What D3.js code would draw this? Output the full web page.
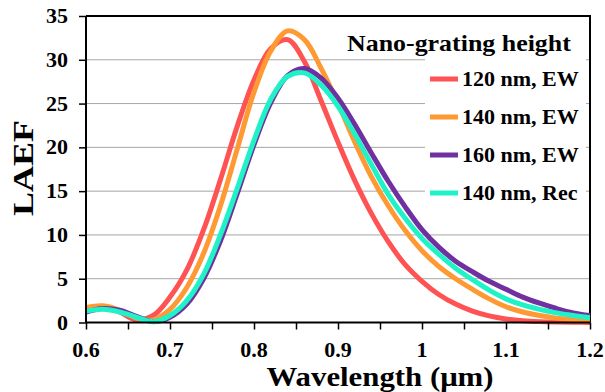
<!DOCTYPE html>
<html>
<head>
<meta charset="utf-8">
<script src="https://cdn.jsdelivr.net/npm/d3@7"></script>
<style>
  body { margin: 0; background: #fff; }
  text { font-family: "Liberation Serif", "Times New Roman", serif; font-weight: bold; fill: #000; }
</style>
</head>
<body>
<svg id="chart" width="605" height="392"></svg>
<script>
// wavelength samples (um)
var wavelength = [0.60, 0.62, 0.64, 0.66, 0.68, 0.70, 0.72, 0.74, 0.76, 0.78, 0.80,
                  0.82, 0.84, 0.86, 0.88, 0.90, 0.92, 0.94, 0.96, 0.98, 1.00,
                  1.02, 1.04, 1.06, 1.08, 1.10, 1.12, 1.14, 1.16, 1.18, 1.20];

var laef120EW  = [1.6, 1.8, 1.2, 0.3, 0.8, 2.9, 6.0, 10.6, 16.3, 22.4, 27.7,
                  31.3, 32.3, 29.8, 25.3, 20.6, 16.2, 12.4, 9.2, 6.6, 4.7,
                  3.2, 2.1, 1.3, 0.75, 0.4, 0.2, 0.1, 0.05, 0.02, 0.01];
var laef140EW  = [1.7, 1.9, 1.4, 0.5, 0.3, 1.5, 4.0, 7.9, 13.3, 19.8, 26.3,
                  31.0, 33.3, 32.3, 29.0, 25.0, 20.6, 16.6, 13.3, 10.5, 8.2,
                  6.4, 5.0, 3.8, 2.7, 1.8, 1.2, 0.8, 0.5, 0.35, 0.25];
var laef160EW  = [1.2, 1.6, 1.4, 0.7, 0.1, 0.6, 2.1, 5.0, 9.3, 14.7, 20.3,
                  25.1, 28.2, 29.0, 27.9, 25.6, 22.6, 19.3, 16.1, 13.2, 10.6,
                  8.6, 7.0, 5.8, 4.7, 3.8, 2.9, 2.2, 1.6, 1.1, 0.8];
var laef140Rec = [1.3, 1.5, 1.2, 0.6, 0.1, 0.8, 2.5, 5.5, 10.0, 15.3, 20.8,
                  25.5, 28.1, 28.5, 27.1, 24.7, 21.5, 18.0, 14.6, 11.9, 9.6,
                  7.8, 6.2, 4.9, 3.7, 2.7, 2.0, 1.5, 1.1, 0.8, 0.55];

var seriesNames = ["120 nm, EW", "140 nm, EW", "160 nm, EW", "140 nm, Rec"];
var seriesValues = [laef120EW, laef140EW, laef160EW, laef140Rec];
var seriesColors = ["#ff5252", "#ff9933", "#7030a0", "#1ff2c6"];

var xTicks = [0.6, 0.7, 0.8, 0.9, 1.0, 1.1, 1.2];
var xMinorTicks = [0.6, 0.65, 0.7, 0.75, 0.8, 0.85, 0.9, 0.95, 1.0, 1.05, 1.1, 1.15, 1.2];
var yTicks = [0, 5, 10, 15, 20, 25, 30, 35];

(function () {
var svg = d3.select("#chart");

var pLeft = 86, pRight = 590, pTop = 16, pBottom = 322.5;

var x = d3.scaleLinear().domain([0.6, 1.2]).range([pLeft, pRight]);
var y = d3.scaleLinear().domain([0, 35]).range([pBottom, pTop]);

// gridlines
svg.append("g")
    .selectAll("line")
    .data(yTicks.filter(function (d) { return d > 0 && d < 35; }))
    .enter().append("line")
    .attr("x1", pLeft).attr("x2", pRight)
    .attr("y1", function (d) { return y(d); })
    .attr("y2", function (d) { return y(d); })
    .attr("stroke", "#a6a6a6")
    .attr("stroke-width", 1);

// legend background hides the gridlines behind it
svg.append("rect")
    .attr("x", 425).attr("y", 58)
    .attr("width", 161).attr("height", 170)
    .attr("fill", "#fff");

// plot frame (top and right)
svg.append("path")
    .attr("d", "M" + pLeft + "," + pTop + "H" + pRight + "V" + pBottom)
    .attr("fill", "none")
    .attr("stroke", "#000")
    .attr("stroke-width", 2);

// curves
var line = d3.line()
    .x(function (d) { return x(d[0]); })
    .y(function (d) { return y(d[1]); })
    .curve(d3.curveCatmullRom.alpha(0.5));

svg.append("g")
    .selectAll("path")
    .data(seriesValues)
    .enter().append("path")
    .attr("d", function (vals) {
        return line(wavelength.map(function (w, i) { return [w, vals[i]]; }));
    })
    .attr("fill", "none")
    .attr("stroke", function (d, i) { return seriesColors[i]; })
    .attr("stroke-width", 5)
    .attr("stroke-linejoin", "round");

// x axis
var xAxis = svg.append("g")
    .attr("transform", "translate(0," + pBottom + ")");
xAxis.append("g")
    .call(d3.axisBottom(x).tickValues(xMinorTicks).tickSize(7).tickFormat(""))
    .call(function (g) {
        g.select(".domain").attr("stroke-width", 2).attr("d", "M" + pLeft + ",0H" + pRight);
        g.selectAll(".tick line").attr("stroke-width", 1.5);
    });
xAxis.selectAll(".xlabel")
    .data(xTicks)
    .enter().append("text")
    .attr("class", "xlabel")
    .attr("transform", function (d) { return "translate(" + x(d) + ",34) scale(1.1,1)"; })
    .attr("text-anchor", "middle")
    .style("font-size", "20px")
    .text(function (d) { return +d.toFixed(1); });

// y axis
var yAxis = svg.append("g")
    .attr("transform", "translate(" + pLeft + ",0)");
yAxis.call(d3.axisLeft(y).tickValues(yTicks).tickSize(7).tickFormat(""))
    .call(function (g) {
        g.select(".domain").attr("stroke-width", 2).attr("d", "M0," + pBottom + "V" + pTop);
        g.selectAll(".tick line").attr("stroke-width", 1.5);
    });
yAxis.selectAll(".ylabel")
    .data(yTicks)
    .enter().append("text")
    .attr("class", "ylabel")
    .attr("transform", function (d) { return "translate(-18," + (y(d) + 7) + ") scale(1.1,1)"; })
    .attr("text-anchor", "end")
    .style("font-size", "20px")
    .text(function (d) { return d; });

// axis titles
svg.append("text")
    .attr("transform", "translate(33,168) rotate(-90) scale(1.2,1)")
    .attr("text-anchor", "middle")
    .style("font-size", "30px")
    .text("LAEF");

svg.append("text")
    .attr("transform", "translate(380,386) scale(1.1,1)")
    .attr("text-anchor", "middle")
    .style("font-size", "28px")
    .text("Wavelength  (\u03bcm)");

// legend
svg.append("text")
    .attr("transform", "translate(347,51) scale(1.08,1)")
    .style("font-size", "24px")
    .text("Nano-grating height");

var legend = svg.append("g")
    .selectAll("g")
    .data(seriesNames)
    .enter().append("g")
    .attr("transform", function (d, i) { return "translate(430," + (79 + i * 38) + ")"; });

legend.append("line")
    .attr("x1", 0).attr("x2", 28)
    .attr("stroke", function (d, i) { return seriesColors[i]; })
    .attr("stroke-width", 5);

legend.append("text")
    .attr("transform", "translate(32,7) scale(1.1,1)")
    .style("font-size", "20px")
    .text(function (d) { return d; });
})();
</script>
</body>
</html>
